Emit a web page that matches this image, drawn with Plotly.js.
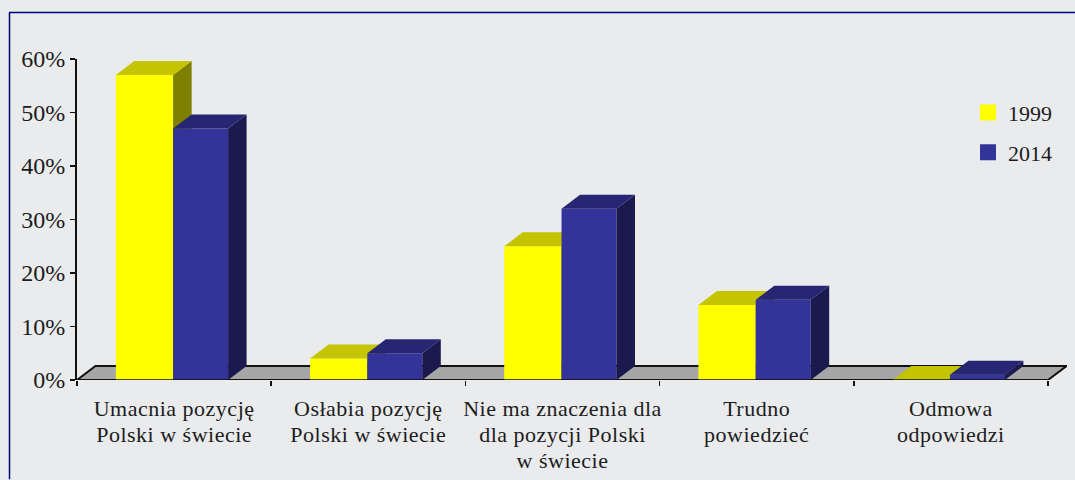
<!DOCTYPE html>
<html>
<head>
<meta charset="utf-8">
<script src="https://cdn.plot.ly/plotly-3.0.1.min.js"></script>
<style>html,body{margin:0;padding:0;background:#E9EBED;overflow:hidden}
.xtick text{letter-spacing:.5px}</style>
</head>
<body>
<div id="chart" style="width:1075px;height:480px"></div>
<script>
const categories = ['Umacnia pozycję<br>Polski w świecie','Osłabia pozycję<br>Polski w świecie','Nie ma znaczenia dla<br>dla pozycji Polski<br>w świecie','Trudno<br>powiedzieć','Odmowa<br>odpowiedzi'];
const values1999 = [57, 4, 25, 14, 0];
const values2014 = [47, 5, 32, 15, 1];
const yTicks = [0, 10, 20, 30, 40, 50, 60];
const yTickLabels = ['0%', '10%', '20%', '30%', '40%', '50%', '60%'];
const seriesNames = ['1999', '2014'];

// layout geometry
const W = 1075, H = 480, L = 77, T = 59, B = 99.5, R = 8;
const plotW = W - L - R, plotH = H - T - B;
const catPx = 194.2;
const xMax = plotW / catPx, yMax = 60;
const dx = 18.5 / catPx, dy = 14 / (plotH / yMax);   // oblique depth in axis units
const centers = categories.map((_, i) => i + 0.5);

const font = 'Liberation Serif, Times New Roman, serif';
const ink = '#1c1c1c';

function faces(vals, off, w, kind) {
  const xs = [], ys = [];
  vals.forEach((v, i) => {
    const a = centers[i] + off, b = a + w;
    const poly = kind === 'top'
      ? [[a, v], [b, v], [b + dx, v + dy], [a + dx, v + dy], [a, v]]
      : [[b, 0], [b + dx, dy], [b + dx, v + dy], [b, v], [b, 0]];
    poly.forEach(p => { xs.push(p[0]); ys.push(p[1]); });
    xs.push(null); ys.push(null);
  });
  return {xs, ys};
}
function face(vals, off, w, kind, color, xa, ya) {
  const f = faces(vals, off, w, kind);
  return {type:'scatter', mode:'lines', x:f.xs, y:f.ys, fill:'toself', fillcolor:color,
          line:{width:0, color:color}, hoverinfo:'skip', showlegend:false, xaxis:xa, yaxis:ya};
}
function series(name, vals, off, w, front, top, side, xa, ya) {
  return [
    {type:'bar', name:name, x:centers, y:vals, offset:off, width:w, marker:{color:front, line:{width:0}},
     showlegend:false, xaxis:xa, yaxis:ya},
    face(vals, off, w, 'side', side, xa, ya),
    face(vals, off, w, 'top', top, xa, ya)
  ];
}
function legendKey(name, color, xa, ya) {
  return {type:'scatter', mode:'markers', name:name, x:[null], y:[null], legendgroup:name,
          marker:{symbol:'square', size:16, color:color}, xaxis:xa, yaxis:ya};
}

const data = [
  ...series(seriesNames[0], values1999, -0.3, 0.295, '#FFFF00', '#C4C400', '#808000', 'x', 'y'),
  ...series(seriesNames[1], values2014, -0.005, 0.283, '#333399', '#262673', '#1A1A4F', 'x2', 'y2'),
  legendKey(seriesNames[0], '#FFFF00', 'x', 'y'),
  legendKey(seriesNames[1], '#333399', 'x', 'y')
];

const px = v => (v - L) / plotW;
const py = v => 1 - (v - T) / plotH;
const border = {type:'line', xref:'paper', yref:'paper', line:{color:'#000080', width:1.5}, layer:'above'};

const layout = {
  width:W, height:H, autosize:false,
  paper_bgcolor:'#E9EBED', plot_bgcolor:'#E9EBED',
  margin:{l:L, r:R, t:T, b:B, pad:0, autoexpand:false},
  barmode:'overlay', showlegend:true, hovermode:false,
  font:{family:font, color:ink},
  xaxis:{type:'linear', range:[0, xMax], showgrid:false, zeroline:false, showline:false, automargin:false,
    tickmode:'array', tickvals:centers, ticktext:categories, ticks:'', ticklen:0, ticklabelstandoff:13,
    tickfont:{family:font, size:22, color:ink}, tickangle:0,
    minor:{tickmode:'array', tickvals:[0,1,2,3,4,5], ticks:'outside', ticklen:5, tickwidth:1.5, tickcolor:'#111', showgrid:false}},
  yaxis:{type:'linear', range:[0, yMax], showgrid:false, zeroline:false, showline:true, linecolor:'#111', linewidth:2,
    automargin:false, tickmode:'array', tickvals:yTicks, ticktext:yTickLabels, ticks:'outside', ticklen:5, tickwidth:1.5, tickcolor:'#111',
    tickfont:{family:font, size:24, color:ink}},
  xaxis2:{overlaying:'x', matches:'x', visible:false, range:[0, xMax]},
  yaxis2:{overlaying:'y', matches:'y', visible:false, range:[0, yMax]},
  legend:{x:0.9, xanchor:'left', y:0.898, yanchor:'top', bgcolor:'rgba(0,0,0,0)', borderwidth:0,
    font:{family:font, size:22, color:ink}, traceorder:'grouped', tracegroupgap:8, itemsizing:'trace'},
  shapes:[
    {type:'path', xref:'x', yref:'y', layer:'below', fillcolor:'#A6A6A6', line:{color:'#111', width:2},
     path:`M0,0 L${dx},${dy} L${5+dx},${dy} L5,0 Z`},
    {type:'line', xref:'x', yref:'y', layer:'above', x0:0, x1:5, y0:0, y1:0, line:{color:'#111', width:1.5}},
    {...border, x0:px(9), x1:px(1075), y0:py(12.5), y1:py(12.5)},
    {...border, x0:px(9.5), x1:px(9.5), y0:py(12.5), y1:py(480)}
  ]
};
Plotly.newPlot('chart', data, layout, {staticPlot:true, displayModeBar:false}).then(gd => {
  // tighten the line spacing of the multi-line category labels
  gd.querySelectorAll('.xtick tspan.line').forEach(t => {
    const d = parseFloat(t.getAttribute('dy')) || 0;
    t.setAttribute('dy', (d * 1.18 / 1.3) + 'em');
  });
});
</script>
</body>
</html>
